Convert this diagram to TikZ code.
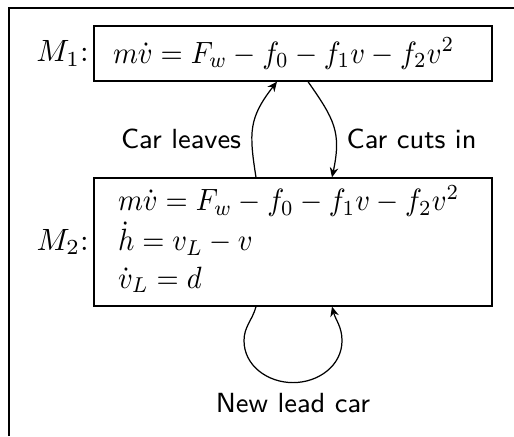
\documentclass[tikz,border=0pt]{standalone}
\usepackage{graphicx}
\usetikzlibrary{arrows.meta,calc}
\begin{document}
\begin{tikzpicture}[x=0.325pt,y=0.325pt,
  mbox/.style={draw, line width=0.4pt, inner ysep=0pt, minimum width=129.35pt},
  tag/.style={inner sep=0pt, anchor=east},
  conn/.style={-{Stealth[length=3.2pt,width=2.8pt]}, line width=0.4pt},
  lbl/.style={font=\sffamily\small}]
\useasboundingbox (0,0) rectangle (514,436);
\draw[line width=0.65pt] (8.5,0) -- (8.5,427.5) -- (514,427.5);

\node[mbox, minimum height=17.9pt, inner xsep=6.2pt] (M1) at (293,382.5)
  {\makebox[117pt][l]{\scalebox{0.925}[1]{$m\dot v = F_w - f_0 - f_1 v - f_2 v^2$}}};
\node[mbox, minimum height=41.6pt, inner xsep=7.8pt] (M2) at (293,194)
  {\makebox[113.75pt][l]{\renewcommand{\arraystretch}{1.02}\scalebox{0.925}[1]{$\begin{array}{@{}l@{}}
     m\dot v = F_w - f_0 - f_1 v - f_2 v^2\\
     \dot h = v_L - v\\
     \dot v_L = d
   \end{array}$}}};

\node[tag] (L1) at ($(M1.west)+(-4,0)$) {$M_1$:};
\node[tag] (L2) at ($(M2.west)+(-4,0)$) {$M_2$:};

\coordinate (a1) at ($(M2.north)+(-37,0)$);
\coordinate (a2) at ($(M1.south)+(-16,0)$);
\draw[conn] (a1) to[out=99,in=-128,looseness=1.2]
  node[lbl,left,pos=0.35] (tl) {Car leaves} (a2);

\coordinate (b1) at ($(M1.south)+(15,0)$);
\coordinate (b2) at ($(M2.north)+(39,0)$);
\draw[conn] (b1) to[out=-55,in=78,looseness=1.2]
  node[lbl,right,pos=0.64] (tc) {Car cuts in} (b2);

\coordinate (c1) at ($(M2.south)+(-37,0)$);
\coordinate (c2) at ($(M2.south)+(39,0)$);
\coordinate (cl) at ($(M2.south)+(-49,-34)$);
\coordinate (cb) at ($(M2.south)+(0,-76)$);
\coordinate (cr) at ($(M2.south)+(49,-34)$);
\draw[conn] (c1) to[out=-105,in=90] (cl) to[out=-90,in=180] (cb)
  to[out=0,in=-90] (cr) to[out=90,in=-75] (c2);
\node[lbl] (tn) at ($(cb)+(0,-20)$) {New lead car};
\end{tikzpicture}
\end{document}
